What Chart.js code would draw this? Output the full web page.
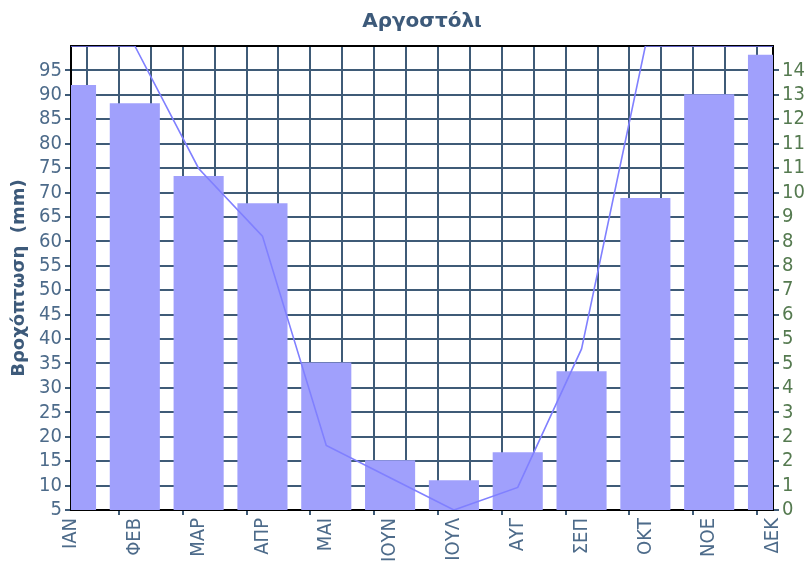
<!DOCTYPE html>
<html lang="el">
<head>
  <meta charset="UTF-8">
  <title>Αργοστόλι</title>
  <script src="https://cdn.jsdelivr.net/npm/chart.js"></script>
  <style>
    body { margin: 0; background: #ffffff; }
  </style>
</head>
<body>
  <canvas id="climateChart" width="807" height="563"></canvas>

  <script>
    // Δεδομένα (διαβασμένα από την εικόνα)
    const months = ['ΙΑΝ', 'ΦΕΒ', 'ΜΑΡ', 'ΑΠΡ', 'ΜΑΙ', 'ΙΟΥΝ', 'ΙΟΥΛ', 'ΑΥΓ', 'ΣΕΠ', 'ΟΚΤ', 'ΝΟΕ', 'ΔΕΚ'];
    const rainfall = [92, 88.3, 73.4, 67.8, 35.2, 15.2, 11.1, 16.8, 33.4, 68.9, 90.1, 98.2];
    const rightSeries = [14.4, 14.4, 10.6, 8.5, 2.0, 1.0, 0, 0.7, 5.0, 14.4, 14.4, 14.4];
    const rightTickLabels = [0, 1, 2, 2, 3, 4, 5, 5, 6, 7, 8, 8, 9, 10, 11, 11, 12, 13, 14];
    const leftMin = 5, leftMax = 100, leftStep = 5;
    const rightMin = 0, rightMax = 14.4;

    const gridColor = '#3f5b77';
    const textBlue = '#4d6b8a';
    const textGreen = '#557a50';
    const tickFont = { family: "'DejaVu Sans Condensed', 'DejaVu Sans', sans-serif", size: 20 };

    const barData = months.map((m, i) => ({ x: i, y: rainfall[i] }));
    const lineData = months.map((m, i) => ({ x: i, y: rightSeries[i] }));

    const ctx = document.getElementById('climateChart').getContext('2d');
    new Chart(ctx, {
      type: 'bar',
      data: {
        datasets: [
          {
            type: 'line',
            data: lineData,
            yAxisID: 'y2',
            borderColor: '#8080ff',
            borderWidth: 1.6,
            pointRadius: 0,
            tension: 0,
            order: 0
          },
          {
            type: 'bar',
            data: barData,
            yAxisID: 'y',
            backgroundColor: '#a0a0fc',
            borderWidth: 0,
            // half-step grid ticks halve the ruler, so widen the category
            categoryPercentage: 2,
            barPercentage: 0.785,
            clip: 0,
            order: 1
          }
        ]
      },
      options: {
        responsive: false,
        devicePixelRatio: 1,
        animation: false,
        layout: { padding: 0 },
        plugins: {
          legend: { display: false },
          tooltip: { enabled: false },
          title: {
            display: true,
            text: 'Αργοστόλι',
            fullSize: false,
            color: '#3d5a7a',
            font: { family: "'DejaVu Sans', sans-serif", size: 20, weight: 'bold', lineHeight: 1.2 },
            padding: { top: 10, bottom: 12 }
          }
        },
        scales: {
          x: {
            type: 'linear',
            min: 0,
            max: months.length - 1,
            offset: false,
            afterFit: s => { s.height = 53; },
            ticks: {
              stepSize: 0.5,
              autoSkip: false,
              minRotation: 90,
              maxRotation: 90,
              padding: 3,
              color: textBlue,
              font: tickFont,
              callback: v => Number.isInteger(v) ? months[v] : ''
            },
            grid: {
              color: gridColor,
              lineWidth: 2,
              tickLength: 5,
              tickColor: c => (c.tick && Number.isInteger(c.tick.value)) ? gridColor : 'rgba(0,0,0,0)'
            },
            border: { color: '#000000', width: 2 }
          },
          y: {
            position: 'left',
            min: leftMin,
            max: leftMax,
            afterFit: s => { s.width = 71; },
            ticks: {
              stepSize: leftStep,
              autoSkip: false,
              padding: 3,
              color: textBlue,
              font: tickFont,
              callback: v => v === leftMax ? '' : v
            },
            grid: {
              color: c => (c.tick && c.tick.value === leftMax) ? '#000000' : gridColor,
              lineWidth: 2,
              tickLength: 6,
              tickColor: c => (c.tick && c.tick.value === leftMax) ? 'rgba(0,0,0,0)' : gridColor
            },
            border: { color: '#000000', width: 2 },
            title: {
              display: true,
              text: 'Βροχόπτωση  (mm)',
              color: '#3d5a7a',
              font: { family: "'DejaVu Sans', sans-serif", size: 18, weight: 'bold', lineHeight: 1.2 },
              padding: { top: 9, bottom: 0 }
            }
          },
          y2: {
            position: 'right',
            min: rightMin,
            max: rightMax,
            afterFit: s => { s.width = 34; },
            ticks: {
              stepSize: (rightMax - rightMin) / rightTickLabels.length,
              autoSkip: false,
              padding: 3,
              color: textGreen,
              font: tickFont,
              callback: (v, i) => i < rightTickLabels.length ? rightTickLabels[i] : ''
            },
            grid: {
              drawOnChartArea: false,
              lineWidth: 2,
              tickLength: 6,
              tickColor: c => (c.index < rightTickLabels.length) ? gridColor : 'rgba(0,0,0,0)'
            },
            border: { color: '#000000', width: 2 }
          }
        }
      }
    });
  </script>
</body>
</html>
